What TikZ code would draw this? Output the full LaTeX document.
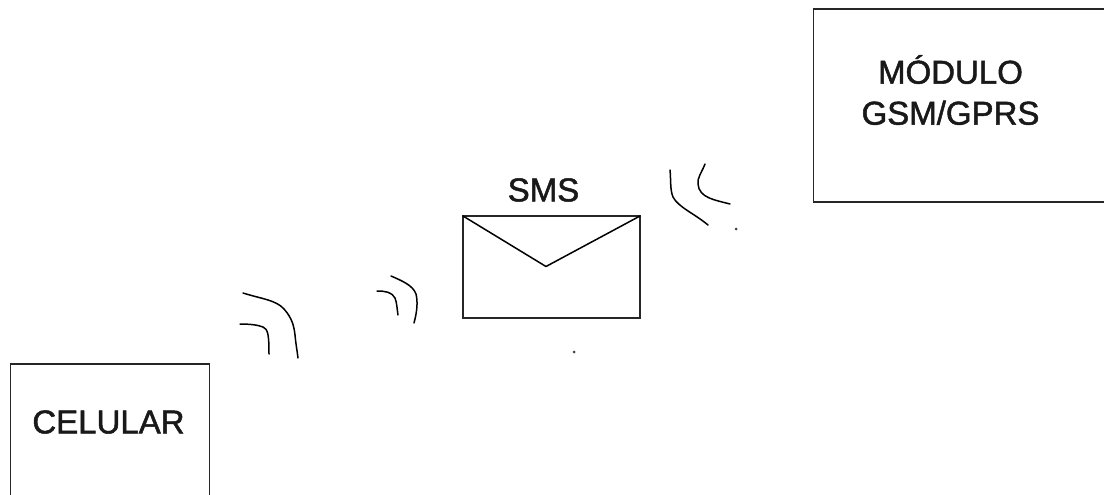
\documentclass[tikz,border=0pt]{standalone}
\usepackage{fontspec}
\setmainfont[FakeBold=1.5]{Liberation Sans}
\begin{document}
\begin{tikzpicture}[x=1pt,y=-1pt,
  boxed/.style={draw=black!85,line width=1.8pt,fill=white,inner sep=0pt,outer sep=0pt,minimum width=#1},
  lbl/.style={font=\fontsize{33}{41}\selectfont,align=center,text=black!90,inner sep=0pt},
  wave/.style={draw=black,line width=1.5pt,line cap=round,line join=round},
  speck/.style={fill=black!75,circle,inner sep=0pt,minimum size=3pt}]
\useasboundingbox (0,0) rectangle (1104,495);
\clip (0,0) rectangle (1104,495);
\fill[white] (0,0) rectangle (1104,495);
\node[boxed=199pt,minimum height=160pt,anchor=north west] (cel) at (10.5,364) {};
\node[boxed=320pt,minimum height=193pt,anchor=north west] (mod) at (813.5,9) {};
\node[boxed=177pt,minimum height=102pt,anchor=north west] (env) at (463,216) {};
\node[lbl] (celt) at (108.5,422) {CELULAR};
\node[lbl] (modt) at (950.5,90) {MÓDULO\\GSM/GPRS};
\node[lbl] (smst) at (543.5,190) {SMS};
\coordinate (tip) at (546,266.5);
\draw[wave] (env.north west) -- (tip) -- (env.north east);
\draw[wave] (243,293) .. controls (262,299) and (276,300) .. (284,309) .. controls (292,318) and (294,326) .. (295,335) .. controls (296,345) and (297,350) .. (298,358);
\draw[wave] (240,324) .. controls (250,324) and (258,325) .. (263,327) .. controls (268,329) and (269,335) .. (269,354);
\draw[wave] (391,276) .. controls (400,280) and (413,285) .. (416,294) .. controls (418,302) and (417,312) .. (414,323);
\draw[wave] (377,291) .. controls (385,291) and (392,292) .. (395,298) .. controls (397,303) and (397,309) .. (398,315);
\draw[wave] (670,170) .. controls (671,180) and (670,190) .. (673,197) .. controls (678,207) and (695,214) .. (708,225);
\draw[wave] (705,164) .. controls (702,172) and (697,178) .. (698,184) .. controls (699,198) and (715,200) .. (730,204);
\node[speck] (d1) at (736,229) {};
\node[speck] (d2) at (574,352) {};
\end{tikzpicture}
\end{document}
